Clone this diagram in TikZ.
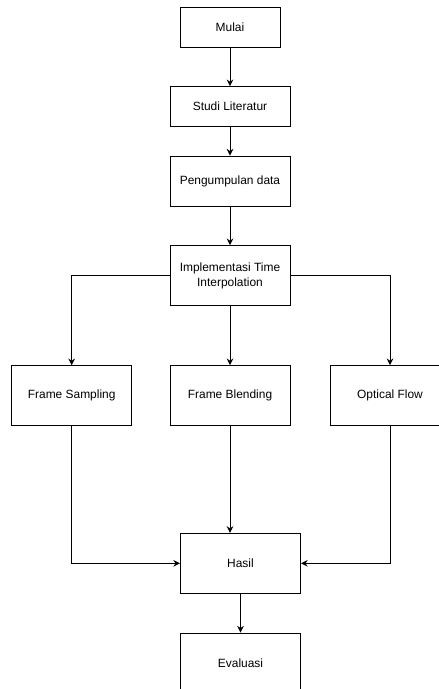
\documentclass[tikz,border=0pt]{standalone}
\usepackage{fontspec}
\setmainfont{Liberation Sans}
\usepackage{tikz}
\usetikzlibrary{arrows.meta,positioning,calc}

\begin{document}
\begin{tikzpicture}[
   every node/.style={font=\fontsize{10.2}{12.4}\selectfont},
   box/.style={draw,rectangle,line width=0.8pt,minimum width=3.6cm,
               minimum height=1.8cm,align=center,inner sep=2pt},
   smallbox/.style={box,minimum height=1.2cm},
   arr/.style={-{Stealth[length=2mm,width=2mm]},line width=0.8pt}
]
\clip (0,0) rectangle (13.17,-20.67);

% Column: preparation
\node[smallbox,minimum width=3cm] (MUL) at (6.9,-0.81) {Mulai};
\node[smallbox] (STU) at (6.9,-3.2) {Studi Literatur};
\node[box,minimum height=1.5cm] (DAT) at (6.9,-5.43) {Pengumpulan data};
\node[box] (IMP) at (6.9,-8.27) {Implementasi Time\\Interpolation};

\draw[arr] (MUL) -- (STU);
\draw[arr] (STU) -- (DAT);
\draw[arr] (DAT) -- (IMP);

% Layer: methods
\node[box] (SAM) at (2.15,-11.87) {Frame Sampling};
\node[box] (BLE) at (6.9,-11.87) {Frame Blending};
\node[box] (OPT) at (11.7,-11.87) {Optical Flow};

\draw[arr] (IMP.west) -| (SAM.north);
\draw[arr] (IMP) -- (BLE);
\draw[arr] (IMP.east) -| (OPT.north);

% Results
\node[box] (HAS) at (7.215,-16.9) {Hasil};
\node[box] (EVA) at (7.215,-19.89) {Evaluasi};

\draw[arr] (SAM.south) |- (HAS.west);
\draw[arr] (BLE.south) -- (BLE.south |- HAS.north);
\draw[arr] (OPT.south) |- (HAS.east);
\draw[arr] (HAS) -- (EVA);

\end{tikzpicture}
\end{document}
